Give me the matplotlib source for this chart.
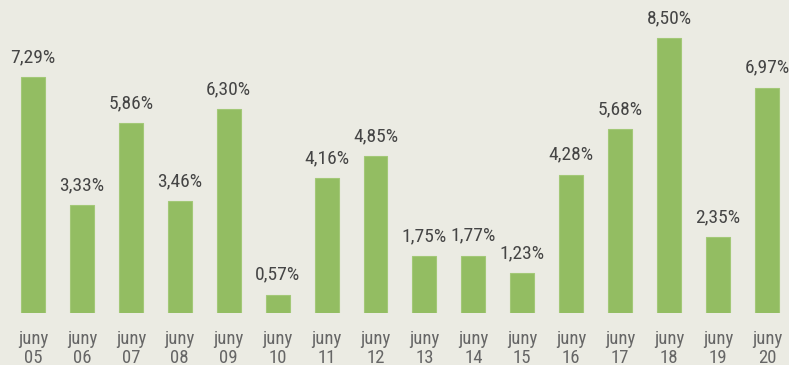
import matplotlib
matplotlib.use("Agg")
import matplotlib.pyplot as plt

months = ["juny\n05", "juny\n06", "juny\n07", "juny\n08", "juny\n09", "juny\n10",
          "juny\n11", "juny\n12", "juny\n13", "juny\n14", "juny\n15", "juny\n16",
          "juny\n17", "juny\n18", "juny\n19", "juny\n20"]
values = [7.29, 3.33, 5.86, 3.46, 6.30, 0.57, 4.16, 4.85, 1.75, 1.77, 1.23,
          4.28, 5.68, 8.50, 2.35, 6.97]

plt.rcParams["font.family"] = ["Roboto Condensed", "DejaVu Sans"]

bg = "#ebebe3"
fig = plt.figure(figsize=(7.89, 3.65), dpi=100, facecolor=bg)
ax = fig.add_axes([0, 1 - 313 / 365, 1, 313 / 365], facecolor=bg)

x = list(range(len(values)))
ax.bar(x, values, width=0.49, color="#93bd62", edgecolor="#a3c877", linewidth=0.8)

for xi, v in zip(x, values):
    ax.annotate(f"{v:.2f}%".replace(".", ","), (xi, v), xytext=(0, 8),
                textcoords="offset points", ha="center", va="bottom",
                fontsize=14, color="#454545")

ax.set_xlim(-33 / 48.93, (789 - 33) / 48.93)
ax.set_ylim(0, 313 / 32.35)
ax.set_xticks(x)
ax.set_xticklabels(months, fontsize=13.5, color="#666666", linespacing=1.1)
ax.tick_params(axis="x", length=0, pad=12)
ax.set_yticks([])
for s in ax.spines.values():
    s.set_visible(False)

fig.savefig("out.png", dpi=100, facecolor=bg)
